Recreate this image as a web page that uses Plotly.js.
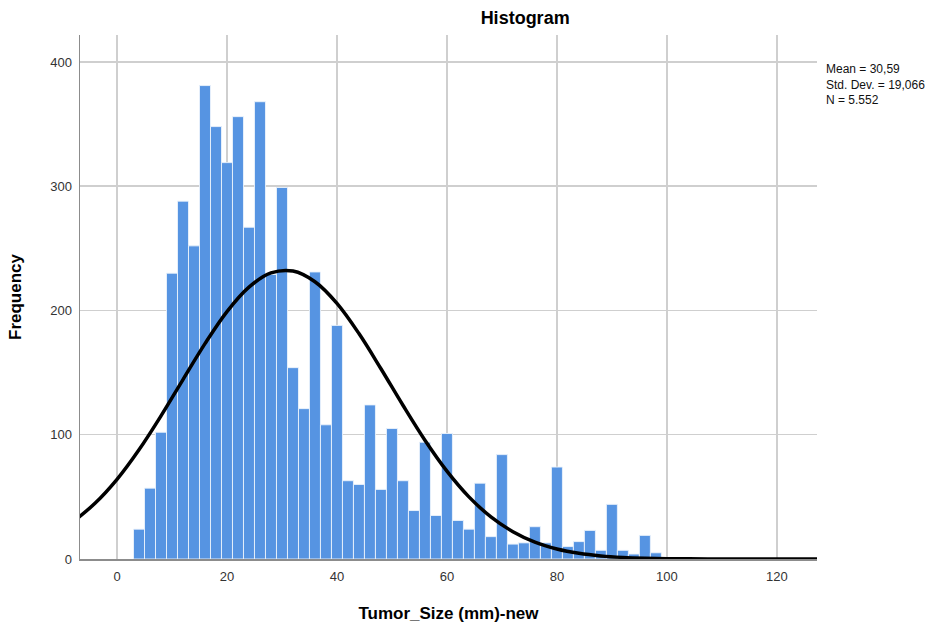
<!DOCTYPE html>
<html>
<head>
<meta charset="utf-8">
<script src="https://cdn.plot.ly/plotly-3.0.1.min.js"></script>
<style>html,body{margin:0;padding:0;background:#fff;}#chart{width:944px;height:626px;}</style>
</head>
<body>
<div id="chart"></div>
<script>
// Histogram bins (2 mm wide), centres and counts
const binCenters = [4,6,8,10,12,14,16,18,20,22,24,26,28,30,32,34,36,38,40,42,44,46,48,50,52,54,56,58,60,62,64,66,68,70,72,74,76,78,80,82,84,86,88,90,92,94,96,98];
const binCounts  = [24,57,102,230,288,252,381,348,319,356,267,368,229,299,154,121,231,108,188,63,60,124,56,105,63,39,94,35,101,31,24,61,18,84,12,13,26,13,74,10,14,23,7,44,7,4,19,5];

// Normal curve, points
const curveX = [-8,-4,0,4,8,12,16,20,24,28,32,36,40,44,48,52,56,60,64,68,72,76,80,84,88,92,96,100,104,108,112,116,120,124,128];
const curveY = [30.0,44.8,64.1,87.9,115.2,144.4,173.3,199.1,218.8,230.2,231.7,223.1,205.7,181.4,153.1,123.7,95.6,70.7,50.0,33.9,22.0,13.6,8.1,4.6,2.5,1.3,0.65,0.3,0.13,0.05,0.02,0.01,0,0,0];

const statsLines = ["Mean = 30,59", "Std. Dev. = 19,066", "N = 5.552"];
const xTicks = [0,20,40,60,80,100,120];
const yTicks = [0,100,200,300,400];

const font = "Liberation Sans, Arial, sans-serif";

const traces = [
  {
    type: "bar",
    x: binCenters,
    y: binCounts,
    width: 2,
    marker: {color: "#5694e2", line: {color: "rgba(235,243,252,0.9)", width: 1}},
    hoverinfo: "x+y",
    showlegend: false
  },
  {
    type: "scatter",
    mode: "lines",
    x: curveX,
    y: curveY,
    line: {color: "#000000", width: 3.5, shape: "spline"},
    showlegend: false
  }
];

const layout = {
  width: 944,
  height: 626,
  margin: {l: 80, r: 127, t: 35, b: 67},
  paper_bgcolor: "#ffffff",
  plot_bgcolor: "#ffffff",
  font: {family: font, color: "#222"},
  bargap: 0,
  title: {
    text: "<b>Histogram</b>",
    font: {family: font, size: 18, color: "#000"},
    xref: "paper", x: 0.604, xanchor: "center",
    yref: "container", y: 0.971, yanchor: "middle"
  },
  xaxis: {
    range: [-6.73, 127.3],
    tickvals: xTicks,
    ticktext: xTicks.map(String),
    showgrid: true,
    gridcolor: "#cfcfcf",
    gridwidth: 1.5,
    zeroline: false,
    showline: true,
    linecolor: "#8c8c8c",
    linewidth: 1.5,
    ticks: "",
    ticklabelstandoff: 5,
    tickfont: {family: font, size: 13, color: "#333"},
    title: {text: "<b>Tumor_Size (mm)-new</b>", font: {family: font, size: 17, color: "#000"}, standoff: 24}
  },
  yaxis: {
    range: [0, 421.7],
    tickvals: yTicks,
    ticktext: yTicks.map(String),
    showgrid: true,
    gridcolor: "#cfcfcf",
    gridwidth: 1.5,
    zeroline: false,
    showline: true,
    linecolor: "#8c8c8c",
    linewidth: 1.5,
    ticks: "",
    ticklen: 0,
    ticklabelstandoff: 4,
    tickfont: {family: font, size: 13, color: "#333"},
    title: {text: "<b>Frequency</b>", font: {family: font, size: 17, color: "#000"}, standoff: 24}
  },
  annotations: [
    {
      xref: "paper", yref: "paper",
      x: 1.009, y: 0.953,
      xanchor: "left", yanchor: "top",
      align: "left",
      showarrow: false,
      text: statsLines.join("<br>"),
      font: {family: font, size: 12, color: "#111"}
    }
  ]
};

Plotly.newPlot("chart", traces, layout, {displayModeBar: false, staticPlot: true});
</script>
</body>
</html>
